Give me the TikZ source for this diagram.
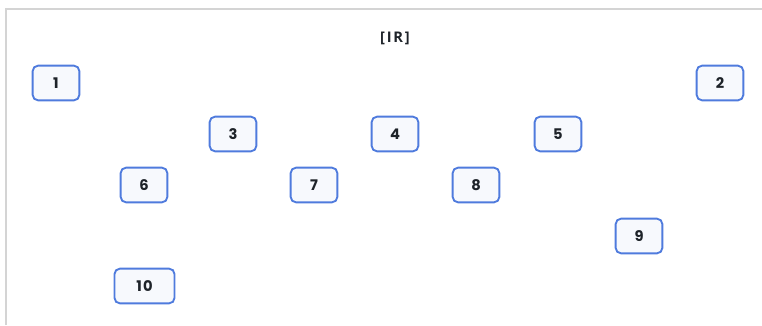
\documentclass[tikz,border=0pt]{standalone}
\usepackage{fontspec}
\setmainfont{Poppins}
\newfontfamily\titlefont[LetterSpace=12]{Open Sans}
\usepackage{tikz}
\usetikzlibrary{positioning}
\definecolor{boxline}{HTML}{4F7BDD}
\definecolor{boxfill}{HTML}{F7F9FD}
\definecolor{ink}{HTML}{1E2329}
\definecolor{frame}{HTML}{D4D4D4}
\tikzset{
  cell/.style={draw=boxline,fill=boxfill,line width=1.4pt,rounded corners=4pt,
    minimum width=35pt,minimum height=26pt,inner sep=0pt,
    font=\bfseries\fontsize{11}{13}\selectfont\addfontfeatures{LetterSpace=8},text=ink},
}

\begin{document}
\begin{tikzpicture}[x=0.75pt,y=-0.75pt]
  \useasboundingbox (0,0) rectangle (762,325);
  \draw[frame,line width=1.1pt] (6,325) -- (6,9) -- (762,9);
  \node[font=\titlefont\bfseries\fontsize{11}{13}\selectfont,text=ink] (title) at (395,38) {[IR]};
  \node[cell] (n1) at (56,83) {1};
  \node[cell] (n2) at (720,83) {2};
  \node[cell] (n3) at (233,134) {3};
  \node[cell] (n4) at (395,134) {4};
  \node[cell] (n5) at (558,134) {5};
  \node[cell] (n6) at (144,185) {6};
  \node[cell] (n7) at (314,185) {7};
  \node[cell] (n8) at (476,185) {8};
  \node[cell] (n9) at (639,236) {9};
  \node[cell,minimum width=45pt] (n10) at (144.5,286) {10};
\end{tikzpicture}
\end{document}
